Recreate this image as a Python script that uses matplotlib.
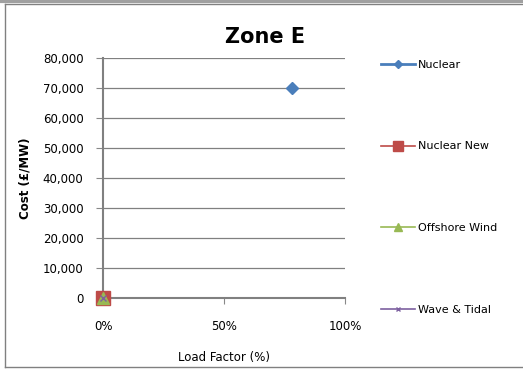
import matplotlib
matplotlib.use("Agg")
import matplotlib.pyplot as plt
from matplotlib.lines import Line2D

# data
series = ["Nuclear", "Nuclear New", "Offshore Wind", "Wave & Tidal"]
load_factor = [[0.78], [0.0], [0.0], [0.0]]
cost = [[70000], [0], [0], [0]]
colors = ["#4a7ebb", "#be4b48", "#98b954", "#7d60a0"]
markers = ["D", "s", "^", "x"]
msizes = [6, 10, 9, 5]

y_ticks = [0, 10000, 20000, 30000, 40000, 50000, 60000, 70000, 80000]
x_ticks = [0.0, 0.5, 1.0]
x_labels = ["0%", "50%", "100%"]

plt.rcParams["font.family"] = ["DejaVu Sans"]

fig = plt.figure(figsize=(5.23, 3.69), dpi=100)
ax = fig.add_axes([0.197, 0.193, 0.463, 0.649])

for name, xs, ys, c, m, s in zip(series, load_factor, cost, colors, markers, msizes):
    ax.plot(xs, ys, color=c, marker=m, markersize=s, linewidth=2, label=name,
            clip_on=False, zorder=5)

ax.set_xlim(0, 1)
ax.set_ylim(0, 80000)
ax.set_yticks(y_ticks)
ax.set_yticklabels([f"{v:,}" for v in y_ticks], fontsize=8.5)
ax.set_xticks(x_ticks)
ax.set_xticklabels(x_labels, fontsize=8.5)
ax.tick_params(axis="x", direction="out", length=4, color="#888888", pad=12)
ax.tick_params(axis="y", direction="out", length=5, color="#888888", pad=9)
ax.grid(axis="y", color="#808080", linewidth=0.9)
ax.set_axisbelow(True)
for side in ["top", "right"]:
    ax.spines[side].set_visible(False)
for side in ["left", "bottom"]:
    ax.spines[side].set_color("#808080")
    ax.spines[side].set_linewidth(1.5)

fig.text(265 / 523, 1 - 37 / 369, "Zone E", fontsize=15, fontweight="bold",
         ha="center", va="center")
ax.set_xlabel("Load Factor (%)", fontsize=8.5, labelpad=13)
ax.set_ylabel("Cost (£/MW)", fontsize=8.5, fontweight="bold", labelpad=8)

handles = [Line2D([], [], color=c, marker=m, markersize=s * 0.7,
                  linewidth=2 if i == 0 else 1.2)
           for i, (c, m, s) in enumerate(zip(colors, markers, msizes))]
fig.legend(handles, series, loc="upper left", bbox_to_anchor=(0.71, 0.865),
           frameon=False, fontsize=8, labelspacing=6.45, handlelength=3.0,
           handletextpad=0.3)

# outer frame
fig.add_artist(Line2D([5 / 523, 5 / 523], [2 / 369, 365 / 369], color="#808080",
                      linewidth=1, transform=fig.transFigure))
fig.add_artist(Line2D([5 / 523, 1], [2 / 369, 2 / 369], color="#808080",
                      linewidth=1, transform=fig.transFigure))
fig.add_artist(Line2D([5 / 523, 1], [365 / 369, 365 / 369], color="#808080",
                      linewidth=1, transform=fig.transFigure))
fig.add_artist(Line2D([0, 1], [368 / 369, 368 / 369], color="#a0a0a0",
                      linewidth=3, transform=fig.transFigure))

fig.savefig("out.png", dpi=100)
